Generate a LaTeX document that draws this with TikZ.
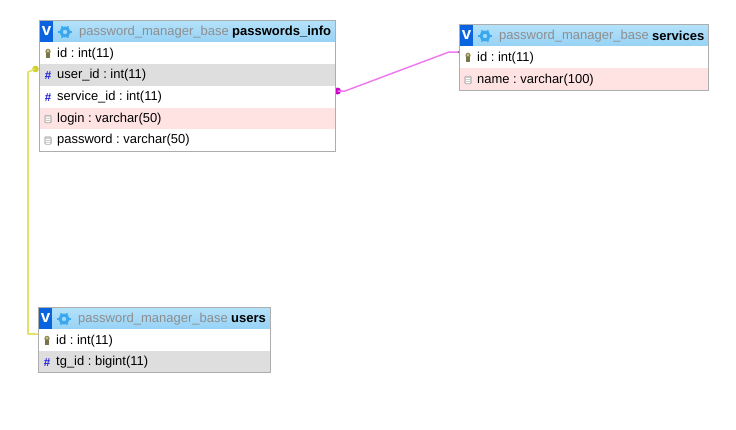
\documentclass[tikz,border=0pt]{standalone}
\usepackage{fontspec}
\setmainfont{Liberation Sans}
\definecolor{framec}{HTML}{ADADAD}
\definecolor{pinkrow}{HTML}{FFE3E3}
\definecolor{greyrow}{HTML}{DEDEDE}
\definecolor{vblue}{HTML}{0A64E0}
\definecolor{gearc}{HTML}{3AA8EE}
\definecolor{dbtext}{HTML}{8E8E8E}
\definecolor{hashc}{HTML}{1A1AE0}
\definecolor{keyc}{HTML}{8F8A55}
\definecolor{yline}{HTML}{E2E268}
\definecolor{ydot}{HTML}{CFCF28}
\definecolor{mline}{HTML}{EE7CEE}
\definecolor{mdot}{HTML}{CC00CC}
\definecolor{titletop}{HTML}{B4E2FA}
\definecolor{titlebot}{HTML}{96D2F5}
\tikzset{
  x=1pt,y=-1pt,
  tablebox/.style={draw=framec,line width=1pt,fill=white,anchor=north west,inner sep=0pt,minimum height=#1},
  titlebar/.style={anchor=north west,inner sep=0pt,top color=titletop,bottom color=titlebot,draw=none},
  rowplain/.style={anchor=north west,inner sep=0pt,fill=white,minimum height=21.7pt},
  rowgrey/.style={rowplain,fill=greyrow},
  rowpink/.style={rowplain,fill=pinkrow},
  vbox/.style={fill=vblue,text=white,inner sep=0pt,minimum width=13pt,minimum height=21pt,anchor=north west,font=\bfseries\fontsize{17}{17}\selectfont},
  rowtext/.style={anchor=west,inner sep=0pt,font=\fontsize{12.95}{15}\selectfont\frenchspacing,text=black},
  titletext/.style={anchor=west,inner sep=0pt,font=\fontsize{13}{15}\selectfont,text=dbtext},
  titlename/.style={anchor=west,inner sep=0pt,font=\bfseries\fontsize{13}{15}\selectfont},
  hashicon/.style={inner sep=0pt,text=hashc,font=\bfseries\fontsize{11.5}{11.5}\selectfont},
  relyellow/.style={draw=yline,line width=1.6pt},
  relmagenta/.style={draw=mline,line width=1.5pt},
}
\newcommand{\keyicon}[2]{%
  \fill[keyc] (#1,#2-2.5) ellipse (2.6pt and 2.8pt);
  \fill[keyc!85!black] (#1-1.8,#2-1) rectangle (#1+1.8,#2+4);
  \fill[white!70!yellow] (#1,#2-3) circle (0.9pt);}
\newcommand{\fieldicon}[2]{%
  \fill[gray!40,draw=gray!70,line width=.4pt,rounded corners=1.5pt] (#1-3.5,#2-4) rectangle (#1+3.5,#2+4);
  \draw[white,line width=.5pt] (#1-2.4,#2-1.5) -- (#1+2.4,#2-1.5) (#1-2.4,#2+.5) -- (#1+2.4,#2+.5) (#1-2.4,#2+2.5) -- (#1+2.4,#2+2.5);}
\newcommand{\gearicon}[2]{%
  \draw[gearc,line width=3pt] (#1,#2) circle (3.9pt);
  \foreach \a in {0,60,...,300}{\draw[gearc,line width=1.7pt] (#1,#2) ++(\a:5pt) -- ++(\a:1.6pt);}}
\begin{document}
\begin{tikzpicture}
\useasboundingbox (0,0) rectangle (736,429);
\fill[white] (0,0) rectangle (736,429);

% relations (under the tables)
\node[inner sep=0pt,minimum size=0pt] (ydotn) at (35.5,69) {};
\node[inner sep=0pt,minimum size=0pt] (mdotn) at (337.5,91) {};
\fill[ydot] (ydotn) circle (3.3pt);
\fill[mdot] (mdotn) circle (3.5pt);

% passwords_info
\node[tablebox=131pt,minimum width=296pt] (pibox) at (39,20) {};
\node[titlebar,minimum width=296pt,minimum height=22pt] (pititle) at (39,20) {};
\node[rowplain,minimum width=296pt] (piid) at (39,42) {};
\node[rowgrey,minimum width=296pt] (piuser) at (39,64) {};
\node[rowplain,minimum width=296pt] (piservice) at (39,86) {};
\node[rowpink,minimum width=296pt] (pilogin) at (39,107.5) {};
\node[rowplain,minimum width=296pt] (pipass) at (39,129) {};
\draw[framec,line width=1pt] (39,20) rectangle (335,151);
\node[vbox] (piv) at (40,20.5) {v};
\gearicon{65}{32}
\node[titletext] (pidb) at (79,32.2) {password\_manager\_base};
\node[titlename] (piname) at (232,32.2) {passwords\_info};
\keyicon{48}{54}
\node[rowtext] (t1) at (57,54) {id : int(11)};
\node[hashicon] (h1) at (48,76) {\#};
\node[rowtext] (t2) at (57,75.5) {user\_id : int(11)};
\node[hashicon] (h2) at (48,97.5) {\#};
\node[rowtext] (t3) at (57,97) {service\_id : int(11)};
\fieldicon{48}{119}
\node[rowtext] (t4) at (57,119) {login : varchar(50)};
\fieldicon{48}{140.5}
\node[rowtext] (t5) at (57,140.5) {password : varchar(50)};

% services
\node[tablebox=66pt,minimum width=249pt] (sbox) at (459,24) {};
\node[titlebar,minimum width=249pt,minimum height=22pt] (stitle) at (459,24) {};
\node[rowplain,minimum width=249pt] (sid) at (459,46) {};
\node[rowpink,minimum width=249pt] (sname) at (459,68) {};
\draw[framec,line width=1pt] (459,24) rectangle (708,90);
\node[vbox] (sv) at (460,24.5) {v};
\gearicon{485}{36}
\node[titletext] (sdb) at (499,36.2) {password\_manager\_base};
\node[titlename] (snm) at (652,36.2) {services};
\keyicon{468}{58}
\node[rowtext] (t6) at (477,58) {id : int(11)};
\fieldicon{468}{80}
\node[rowtext] (t7) at (477,80) {name : varchar(100)};

% users
\node[tablebox=65pt,minimum width=232pt] (ubox) at (38,307) {};
\node[titlebar,minimum width=232pt,minimum height=22pt] (utitle) at (38,307) {};
\node[rowplain,minimum width=232pt] (uid) at (38,329) {};
\node[rowgrey,minimum width=232pt] (utg) at (38,350.5) {};
\draw[framec,line width=1pt] (38,307) rectangle (270,372);
\node[vbox] (uv) at (39,307.5) {v};
\gearicon{64}{319}
\node[titletext] (udb) at (78,319.2) {password\_manager\_base};
\node[titlename] (unm) at (231,319.2) {users};
\keyicon{47}{341}
\node[rowtext] (t8) at (56,341) {id : int(11)};
\node[hashicon] (h3) at (47,363) {\#};
\node[rowtext] (t9) at (56,362.5) {tg\_id : bigint(11)};

% connectors
\draw[relyellow,line join=round] (ydotn) -- ++(-7.5,3) -- (28,334) -- ([yshift=6pt]uid.west);
\draw[relmagenta,line join=round] (mdotn) -- ++(7.5,0) -- (449,52) -- ([yshift=5pt]sid.west);
\fill[mline!70!black] (459,50.5) arc[start angle=90,end angle=270,radius=1.5pt] -- cycle;
\end{tikzpicture}
\end{document}
